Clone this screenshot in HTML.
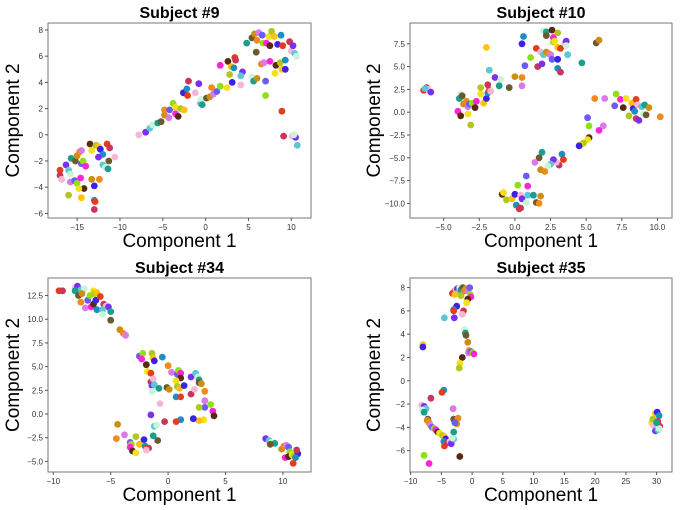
<!DOCTYPE html>
<html><head><meta charset="utf-8">
<style>
html,body{margin:0;padding:0;background:#fff;}
svg{display:block;font-family:"Liberation Sans",sans-serif;}
</style></head>
<body>
<svg id="chart" width="680" height="510" viewBox="0 0 680 510"></svg>
<script>
const palette = ["#e63c1e","#7b2ff2","#1a9e8f","#f08a1c","#8fe01a","#f5e01a","#3a22e8","#c9365a","#5bc8d6","#6b5a30","#d97ae6","#ff24d6","#b0c81e","#1c8fc2","#f7b6d8","#c8f5d8","#cc8f14","#6a5cf0","#5a2a10","#ffc20a"];

const s9Points = [[-17,-2.7],[-17,-3.1],[-16.8,-3.4],[-16.3,-2.3],[-16,-2.7],[-15.8,-3],[-15.7,-1.8],[-15.2,-2],[-15,-1.6],[-14.7,-1.3],[-14.5,-1.2],[-14.5,-2.2],[-14.3,-2],[-14,-2.4],[-13.5,-0.7],[-13.3,-1.2],[-12.8,-0.8],[-12.5,-0.9],[-12.3,-1.1],[-12,-1.5],[-11.5,-0.7],[-11.2,-1],[-10.6,-1.7],[-12.5,-1.7],[-12,-2.3],[-11.7,-2.5],[-11.4,-2.6],[-11.3,-2],[-13.3,-3.4],[-12.4,-3.4],[-15.8,-3.6],[-15.3,-3.5],[-15,-3.7],[-14.6,-3.3],[-14.2,-4.1],[-14.8,-4.1],[-16,-4.6],[-14.5,-4.8],[-13,-3.9],[-13,-5.0],[-12.9,-5.1],[-13,-5.7],
[-7.8,0],[-7,0.2],[-6.5,0.5],[-6.2,0.75],[-5.6,0.9],[-5.2,1],[-4.8,1.5],[-4.8,1.9],[-4.3,1.3],[-4.2,1.9],[-3.8,2.4],[-3.5,1.6],[-3.2,1.4],[-3.5,2.1],[-2.9,2],[-2.5,1.9],[-2.6,3.2],[-2.2,3.5],[-2.1,3],[-2,4.1],[-1.2,3.2],[-0.8,3.9],[-0.6,2.4],[-0.5,2.7],[-0.4,2.3],[0.1,2.8],[0.5,2.9],[0.7,3.6],[0.9,3.1],[1.3,3.3],[1.7,3.7],[1.7,5.3],[2.6,5.6],[2.5,3.6],[2.8,4.6],[3,5.2],[3.1,4],[3.3,5.1],[3.4,5.9],[3.5,5.7],[4.1,3.8],[4.3,4.8],[4.1,4.5],[5.4,4.4],[5.6,4.1],[5.9,6.3],[6,4.3],[6.5,5.4],[6.8,5.5],[7,4.1],[7,3],[7.5,5.6],[8.2,5.3],[8.1,4.7],[8.7,5.5],[8.9,5],[9.3,5],[9.3,5.7],[8.9,1.8],[9.1,-0.1],[10.1,-0.1],[10.5,-0.2],[10.7,-0.8],[10.3,0],
[4.8,7],[5.4,7.4],[5.7,7.7],[6,7.2],[6.2,7.8],[6.6,7.6],[6.7,7],[7.1,7],[7.5,6.8],[7.4,7.5],[7.7,7.9],[8,7.5],[8.4,6.9],[8.8,7.6],[9,6.8],[9.8,7.1],[10,6.4],[10.2,6.8],[10.4,6.2],[10.6,6]];

const s10Points = [[-6.4,2.4],[-6.2,2.7],[-6.1,2.5],[-5.9,2.2],[-6.3,2.6],
[-3.8,2],[-3.9,1.5],[-3.7,1.8],[-3.6,0.9],[-3.4,1.2],[-3.3,0.6],[-3.2,0.9],[-3,1],[-2.7,1.2],[-2.8,0.5],[-2.4,2],[-2.4,2.7],[-2.2,1],[-2,1.5],[-1.9,2.1],[-1.8,2.4],[-1.9,3],[-1.7,2.3],[-1.4,3.8],[-1.8,4.6],[-1,3.6],[-1.1,2.9],[-0.4,2.7],[0,3.9],[0.5,3.8],[0.5,2.9],[0.7,5.1],[1.1,6],[-4,0.1],[-3.8,-0.4],[-3.3,-0.2],[-3.1,-1.4],[-2,7.1],[0.5,7.5],[0.6,8.3],
[1.5,7],[1.6,5],[1.8,6.6],[1.9,5.3],[2,6.3],[2,8.9],[2.2,8.8],[2.2,8.4],[2.2,6.6],[2.4,6.4],[2.5,6.3],[2.6,5.8],[2.7,7.7],[2.7,8.2],[2.6,9],[2.8,7.8],[3,8.7],[3,7.1],[3,5.8],[3,4.8],[3.2,7],[3.2,4.4],[3.5,7.6],[3.6,7.8],[3.7,6.3],[3.6,7.3],[4.7,5.4],[5.7,7.6],[5.9,7.9],
[5.6,1.5],[6.3,1.5],[7,0.7],[7.1,2],[7.4,1.4],[7.6,0.5],[7.8,1.5],[8,-0.4],[8.2,1],[8.3,0.4],[8.4,0.1],[8.5,1.4],[8.5,-0.7],[8.6,0.8],[8.7,-0.9],[8.9,0.6],[9,-0.2],[9.1,0.8],[9.2,-0.3],[9.4,0.5],[10.2,-0.5],[6.2,-1.5],
[5.1,-0.6],[5.2,-1.5],[5.9,-2],[5.2,-2.8],[5.1,-3],[4.8,-3.4],[4.6,-3.6],[4.5,-3.7],[3.3,-4.6],[3.4,-5.2],[3.1,-5.8],[2.9,-5.5],[2.7,-5.2],[2.5,-5.7],[2.3,-5.9],[1.9,-4.4],[1.7,-5],[1.8,-6.3],[2.1,-6.5],[1.4,-5.5],[0.8,-7],[0.2,-8],[0.9,-8.1],[-0.9,-9],[-0.8,-8.8],[-0.6,-9.6],[-0.2,-9.5],[0,-9],[0.1,-10.2],[0.3,-10.6],[0.4,-10.5],[0.4,-9.1],[0.5,-9.5],[0.9,-9.1],[0.8,-9.9],[1.3,-9.1],[1.5,-9.9],[1.8,-9.2],[1.7,-10]];

const s34Points = [[-9.5,13],[-9.2,13],[-8.1,13.3],[-7.9,13.5],[-7.6,13.1],[-7.3,13.2],[-8.1,13],[-7.8,12.5],[-7.5,12.7],[-7.6,11.8],[-7.2,11.2],[-7,12],[-6.8,12.5],[-6.7,11.3],[-6.5,11.6],[-6.5,13],[-6.4,12.7],[-6.2,12.8],[-6.3,12],[-6.2,11],[-5.9,12.4],[-5.6,11.6],[-5.4,11.4],[-5.2,11.3],[-5.7,11],[-5.7,10.5],[-5,10.8],[-5,9.9],[-4.2,8.9],[-3.9,8.5],[-3.7,8.3],
[-2.5,6.1],[-2.2,6.4],[-2.3,5.8],[-1.9,5.2],[-1.8,4.5],[-1.4,6.4],[-1.3,5.9],[-1.2,5.6],[-0.5,6],[-1.5,4.3],[-1.5,3.4],[-1.3,3.7],[-1.4,3],[-1.2,3.1],[-1.4,2.4],[-0.8,2.7],[-0.1,2.8],[0.1,2.6],[0,5.1],[0.3,4.4],[0.8,4.2],[0.9,4.6],[1.1,4.3],[1.1,3.8],[0.7,3.5],[0.8,2.9],[1,2.7],[1.4,3],[0.7,1.8],[1.1,1.8],[2,2.1],[2.3,2.6],[2,3.9],[2.4,4.3],[2.6,3.9],[2.7,3.6],[2.7,3.3],[2.9,3.2],[3.2,2.4],[3.2,1.4],[3.2,0.7],[3.7,1],[3.9,0.3],[4,-0.2],[3.1,-0.6],[2.7,0.7],[2.7,-0.7],[2.2,-0.5],[1.1,-0.6],[0.7,-0.8],[-0.3,-0.8],[-0.7,1.1],[-1.5,-0.1],[-1.2,-1.3],[-1,-1.2],[-1.3,-2.3],[-0.9,-2.8],[-4.4,-1.1],[-4.5,-2.6],[-3.8,-2.2],[-3.3,-3],[-3.2,-3.2],[-3.3,-3.5],[-3.1,-3.9],[-2.8,-4.1],[-2.8,-2.4],[-2.5,-3.2],[-2.1,-2.7],[-2,-3.4],[-1.9,-3.6],[-1.7,-3.6],[-1.9,-3.8],
[8.5,-2.6],[8.8,-2.8],[9,-3],[9.3,-3.1],[8.9,-3.2],[9.9,-3.7],[10.1,-3.4],[10.3,-3.3],[10.5,-3.5],[10.6,-4],[10.2,-4.6],[10.5,-4.5],[10.8,-4.3],[11,-4.4],[11.2,-4],[11.3,-4.2],[11.1,-4.6],[10.9,-5.2],[11.2,-3.8]];

const s35Points = [[-3.2,7.5],[-2.8,7.7],[-2.6,7.8],[-2.4,7.9],[-2.2,7.6],[-2,8],[-1.8,7.8],[-1.5,8],[-1.3,7.7],[-1,7.9],[-0.7,7.7],[-0.4,8],[-0.3,7.4],[-0.2,7.2],[-0.7,7],[-0.9,6.7],[-1.8,7.3],[-2.8,7.4],[-2.5,6.4],[-3,6.1],[-3,6],[-1.4,6],[-1.6,5.7],[-2.9,5.4],[-4.5,5.4],[-1.2,4.4],[-1.1,4.1],[-1,3.9],[-0.7,3.3],[-0.5,2.6],[-0.6,2.4],[-0.2,2.5],[0.1,2.4],[0.3,2.3],[-1.6,2],[-2,1.5],[-2.1,1.1],[-8,3.1],[-8,2.9],
[-4.6,-0.8],[-4.9,-1],[-6.7,-1.5],[-8.2,-2.1],[-7.8,-2.2],[-7.5,-2.4],[-8.1,-2.5],[-7.8,-2.7],[-7.2,-3.3],[-7.3,-3.4],[-7,-3.6],[-6.8,-3.8],[-6.5,-4],[-6.2,-4.1],[-5.9,-4.2],[-5.6,-4.4],[-5.3,-4.5],[-4.8,-4.7],[-4.5,-4.8],[-4.3,-5],[-4.6,-5.2],[-4.5,-5.6],[-4,-5.3],[-3.6,-5.2],[-3.4,-5.4],[-3,-5],[-3.2,-4.9],[-3,-4.4],[-3,-3.3],[-2.5,-3.7],[-2.3,-3.2],[-3.1,-2.4],[-2.8,-3.6],[-7.8,-6.4],[-7,-7.1],[-2,-6.5],
[29.2,-3.6],[29.4,-3.3],[29.8,-2.8],[30.1,-2.7],[30.4,-3],[30.2,-3.5],[30.5,-3.9],[29.5,-3.8],[29.8,-4.3],[30.2,-4.2],[30.4,-4.1],[30,-3.6]];

const s9XTicks = [-15,-10,-5,0,5,10];
const s9YTicks = [-6,-4,-2,0,2,4,6,8];
const s10XTicks = [-5,-2.5,0,2.5,5,7.5,10];
const s10YTicks = [-10,-7.5,-5,-2.5,0,2.5,5,7.5];
const s34XTicks = [-10,-5,0,5,10];
const s34YTicks = [-5,-2.5,0,2.5,5,7.5,10,12.5];
const s35XTicks = [-10,-5,0,5,10,15,20,25,30];
const s35YTicks = [-6,-4,-2,0,2,4,6,8];

const NS = "http://www.w3.org/2000/svg";
const svg = document.getElementById('chart');
function mk(tag, attrs, parent){ const e=document.createElementNS(NS,tag); for(const k in attrs) e.setAttribute(k,attrs[k]); (parent||svg).appendChild(e); return e; }

const panels = [
 {id:"subject-9", title:"Subject #9", pts:s9Points, xt:s9XTicks, yt:s9YTicks, dec:0, box:[48,23,311,218], xd:[-18.4,12.3], yd:[-6.35,8.53], ylx:12},
 {id:"subject-10", title:"Subject #10", pts:s10Points, xt:s10XTicks, yt:s10YTicks, dec:1, box:[410,23,672,218], xd:[-7.36,11.02], yd:[-11.6,9.78], ylx:373},
 {id:"subject-34", title:"Subject #34", pts:s34Points, xt:s34XTicks, yt:s34YTicks, dec:1, ydec:1, xdec:0, box:[48,278,311,472], xd:[-10.46,12.45], yd:[-6.12,14.35], ylx:12},
 {id:"subject-35", title:"Subject #35", pts:s35Points, xt:s35XTicks, yt:s35YTicks, dec:0, box:[410,278,672,472], xd:[-10.1,32.5], yd:[-7.83,8.82], ylx:373}
];

panels.forEach(p=>{
  const [L,T,R,B]=p.box;
  const sx=v=>L+(v-p.xd[0])/(p.xd[1]-p.xd[0])*(R-L);
  const sy=v=>B-(v-p.yd[0])/(p.yd[1]-p.yd[0])*(B-T);
  const xdec = p.xdec!==undefined?p.xdec:p.dec;
  const ydec = p.ydec!==undefined?p.ydec:p.dec;
  const g=mk('g',{});
  
  
  const pg=mk('g',{},g);
  
  
  p.pts.forEach((d,i)=>{
    const c=mk('circle',{cx:sx(d[0]).toFixed(1),cy:sy(d[1]).toFixed(1),r:3.4,fill:palette[(i*7)%palette.length]},pg);
    
    
  });
  const fr=mk('rect',{x:L,y:T,width:R-L,height:B-T,fill:'none',stroke:'#777','stroke-width':1},g);
  
  
  p.xt.forEach(v=>{
    const x=sx(v);
    mk('line',{x1:x,y1:B,x2:x,y2:B+3,stroke:'#555'},g);
    const t=mk('text',{x:x,y:B+12,'font-size':8,fill:'#333','text-anchor':'middle'},g);
    t.textContent = (v<0?'\u2212':'')+Math.abs(v).toFixed(xdec);
    
    
  });
  p.yt.forEach(v=>{
    const y=sy(v);
    mk('line',{x1:L-3,y1:y,x2:L,y2:y,stroke:'#555'},g);
    const t=mk('text',{x:L-5,y:y+3,'font-size':8,fill:'#333','text-anchor':'end'},g);
    t.textContent = (v<0?'\u2212':'')+Math.abs(v).toFixed(ydec);
    
    
  });
  const tt=mk('text',{x:(L+R)/2,y:T-5,'font-size':16,'font-weight':'bold','text-anchor':'middle',fill:'#000'},g);
  tt.textContent=p.title;
  
  
  const xl=mk('text',{x:(L+R)/2,y:B+29,'font-size':19,'text-anchor':'middle',fill:'#000'},g);
  xl.textContent='Component 1';
  
  
  const cy=(T+B)/2;
  const yl=mk('text',{x:p.ylx+7,y:cy,'font-size':19,'text-anchor':'middle',fill:'#000',transform:`rotate(-90 ${p.ylx+7} ${cy})`},g);
  yl.textContent='Component 2';
  
  
});
</script>
</body></html>
